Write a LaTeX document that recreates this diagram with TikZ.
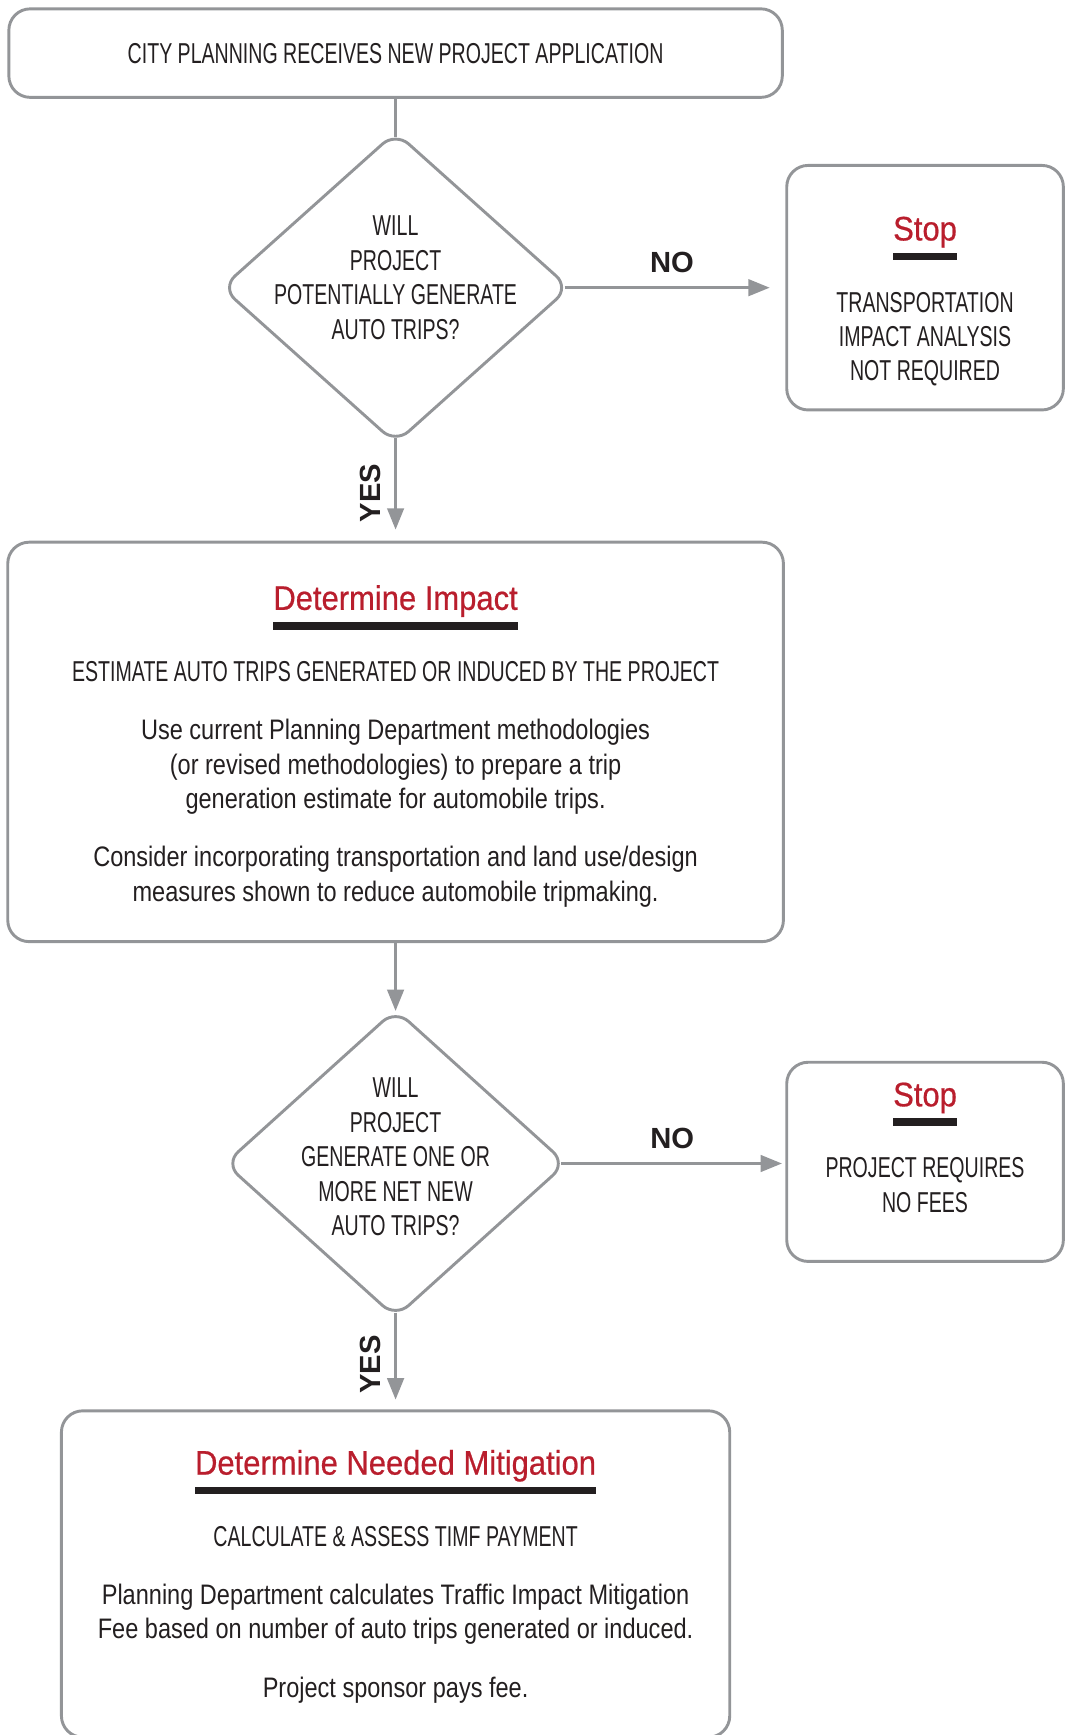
\documentclass[tikz,border=0pt]{standalone}
\usepackage{fontspec}
\usetikzlibrary{shapes.geometric, arrows.meta}

\setmainfont{Liberation Sans}
\newfontfamily\capsfam{Liberation Sans}[FakeStretch=0.68]
\newfontfamily\mixfam{Liberation Sans}[FakeStretch=0.835]
\newfontfamily\headfam{Liberation Sans}[FakeStretch=0.91, FakeBold=0.6]
\newfontfamily\answerfam{Liberation Sans}

\newcommand{\capsfont}{\capsfam\fontsize{14.8}{17.7}\selectfont}
\newcommand{\mixfont}{\mixfam\fontsize{14.5}{17.7}\selectfont}
\newcommand{\headfont}{\headfam\fontsize{17.5}{21}\selectfont}

\definecolor{linegray}{RGB}{147,149,152}
\definecolor{stopred}{RGB}{185,30,45}
\definecolor{inkblack}{RGB}{35,31,32}

\newsavebox{\headbox}
\newcommand{\heading}[1]{\sbox{\headbox}{\headfont\color{stopred}#1}%
    \usebox{\headbox}\\[-7.5pt]%
    {\color{inkblack}\rule{\wd\headbox}{4pt}}\\[8.9pt]}

\begin{document}
\begin{tikzpicture}[
        box/.style={rectangle, draw=linegray, line width=1.5pt, rounded corners=11pt},
        decision/.style={diamond, draw=linegray, line width=1.5pt, rounded corners=9pt, inner sep=0pt},
        capstext/.style={font=\capsfont, text=inkblack, align=flush center, inner sep=0pt},
        answer/.style={font=\answerfam\bfseries\fontsize{15}{18}\selectfont, text=inkblack, inner sep=7pt},
        flow/.style={draw=linegray, line width=1.5pt, -{Triangle[length=11pt, width=8.5pt]}}
    ]
    \useasboundingbox (0,0) rectangle (19.3,-31.36);

    % Start
    \node[box, capstext, minimum width=13.98cm, minimum height=1.6cm] (start) at (7.15,-0.96)
        {CITY PLANNING RECEIVES NEW PROJECT APPLICATION};

    % Question 1
    \node[decision, minimum width=6.3cm, minimum height=5.64cm] (q1) at (7.15,-5.2) {};
    \node[capstext] (q1text) at (7.15,-5.02) {
        WILL\\
        PROJECT\\
        POTENTIALLY GENERATE\\
        AUTO TRIPS?
    };

    % Stop 1
    \node[box, minimum width=5cm, minimum height=4.42cm] (stop1) at (16.72,-5.2) {};
    \node[capstext, text width=4.6cm, anchor=north] (stop1text) at (16.72,-3.91) {
        \heading{Stop}
        TRANSPORTATION\\
        IMPACT ANALYSIS\\
        NOT REQUIRED
    };

    % Determine Impact
    \node[box, minimum width=14.02cm, minimum height=7.22cm] (impact) at (7.15,-13.41) {};
    \node[capstext, text width=13.4cm, anchor=north] (impacttext) at (7.15,-10.57) {
        \heading{Determine Impact}
        ESTIMATE AUTO TRIPS GENERATED OR INDUCED BY THE PROJECT\\[12.3pt]
        {\mixfont Use current Planning Department methodologies\\
        (or revised methodologies) to prepare a trip\\
        generation estimate for automobile trips.}\\[12.3pt]
        {\mixfont Consider incorporating transportation and land use/design\\
        measures shown to reduce automobile tripmaking.}
    };

    % Question 2
    \node[decision, minimum width=6.18cm, minimum height=5.58cm] (q2) at (7.15,-21.03) {};
    \node[capstext] (q2text) at (7.15,-20.91) {
        WILL\\
        PROJECT\\
        GENERATE ONE OR\\
        MORE NET NEW\\
        AUTO TRIPS?
    };

    % Stop 2
    \node[box, minimum width=5cm, minimum height=3.6cm] (stop2) at (16.72,-21.0) {};
    \node[capstext, text width=4.6cm, anchor=north] (stop2text) at (16.72,-19.56) {
        \heading{Stop}
        PROJECT REQUIRES\\
        NO FEES
    };

    % Determine Needed Mitigation
    \node[box, minimum width=12.08cm, minimum height=5.9cm] (mitig) at (7.15,-28.45) {};
    \node[capstext, text width=11.6cm, anchor=north] (mitigtext) at (7.15,-26.2) {
        \heading{Determine Needed Mitigation}
        CALCULATE \& ASSESS TIMF PAYMENT\\[12.3pt]
        {\mixfont Planning Department calculates Traffic Impact Mitigation\\
        Fee based on number of auto trips generated or induced.}\\[12.3pt]
        {\mixfont Project sponsor pays fee.}
    };

    % Connectors
    \draw[draw=linegray, line width=1.5pt, shorten >=-3.5pt] (start) -- (q1.north);
    \draw[flow, shorten <=-3.5pt, shorten >=8pt] (q1.east) -- (q1.east -| stop1.west)
        node[answer, pos=0.47, anchor=south] {NO};
    \draw[flow, shorten <=-3.5pt, shorten >=5.7pt] (q1.south) -- (impact.north)
        node[answer, midway, rotate=90, anchor=south] {YES};
    \draw[flow, shorten >=-1.7pt] (impact) -- (q2.north);
    \draw[flow, shorten <=-3.5pt, shorten >=1.7pt] (q2.east) -- (q2.east -| stop2.west)
        node[answer, pos=0.48, anchor=south] {NO};
    \draw[flow, shorten <=-3.5pt, shorten >=5pt] (q2.south) -- (mitig.north)
        node[answer, midway, rotate=90, anchor=south] {YES};

\end{tikzpicture}
\end{document}
